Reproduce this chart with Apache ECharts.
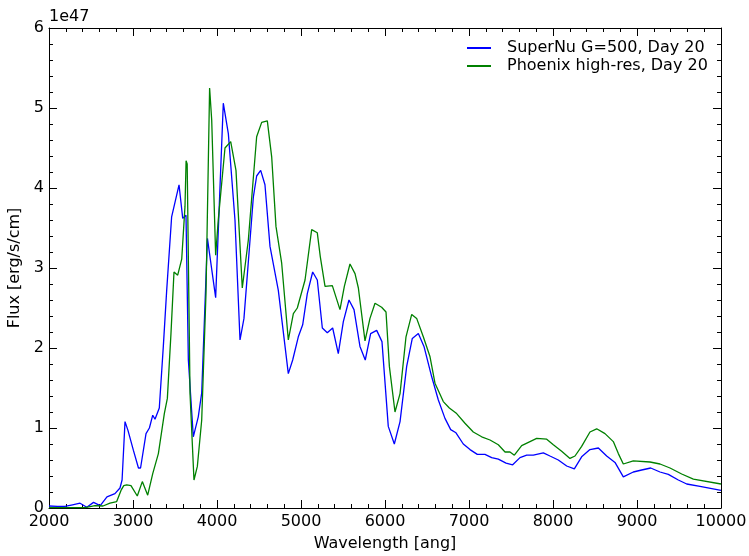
<!DOCTYPE html>
<html>
<head>
<meta charset="utf-8">
<script src="https://cdn.jsdelivr.net/npm/echarts@6/dist/echarts.min.js"></script>
<style>html,body{margin:0;padding:0;background:#fff}#c{width:749px;height:556px}</style>
</head>
<body>
<div id="c"></div>
<script>
var superNuWave = [2000,2100,2190,2280,2370,2450,2530,2610,2690,2785,2845,2870,2905,2940,3005,3065,3090,3155,3195,3235,3262,3313,3361,3401,3460,3548,3592,3631,3659,3718,3777,3818,3886,3984,4075,4135,4214,4274,4321,4433,4472,4520,4571,4631,4730,4849,4901,4968,5020,5075,5139,5194,5254,5313,5377,5444,5504,5571,5631,5702,5765,5829,5901,5964,6039,6111,6179,6258,6325,6397,6464,6556,6635,6714,6782,6845,6932,7012,7099,7190,7270,7349,7441,7520,7607,7687,7766,7845,7885,7964,8063,8163,8254,8341,8440,8540,8639,8738,8837,8956,9056,9163,9274,9373,9492,9592,9750,10000];
var superNuFlux = [0.025,0.02,0.02,0.04,0.06,0.01,0.07,0.03,0.14,0.18,0.25,0.35,1.08,0.97,0.72,0.50,0.50,0.93,1.0,1.16,1.11,1.25,2.02,2.72,3.64,4.04,3.62,3.66,1.85,0.89,1.14,1.44,3.37,2.63,5.06,4.68,3.6,2.1,2.37,3.89,4.15,4.22,4.04,3.27,2.72,1.68,1.85,2.14,2.29,2.68,2.95,2.85,2.25,2.19,2.25,1.93,2.33,2.6,2.48,2.02,1.85,2.18,2.22,2.08,1.02,0.80,1.08,1.77,2.12,2.18,2.02,1.64,1.35,1.12,0.98,0.94,0.80,0.73,0.67,0.67,0.63,0.61,0.56,0.54,0.63,0.66,0.66,0.68,0.69,0.65,0.60,0.525,0.49,0.64,0.73,0.75,0.65,0.57,0.39,0.45,0.475,0.50,0.45,0.42,0.35,0.30,0.27,0.22];

var phoenixWave = [2000,2200,2430,2548,2643,2726,2806,2857,2890,2925,2944,2976,2996,3051,3111,3175,3235,3302,3373,3409,3452,3488,3532,3580,3619,3632,3645,3679,3726,3766,3818,3869,3897,3912,3937,3984,4015,4095,4163,4226,4301,4373,4472,4532,4599,4651,4702,4770,4849,4909,4956,5048,5127,5194,5230,5286,5373,5464,5516,5583,5643,5683,5762,5821,5881,5960,6012,6052,6119,6179,6250,6318,6377,6456,6536,6595,6694,6766,6853,6952,7051,7151,7250,7349,7429,7488,7540,7627,7726,7806,7925,8004,8103,8202,8262,8341,8440,8520,8619,8718,8778,8837,8956,9155,9274,9393,9532,9671,10000];
var phoenixFlux = [0.005,0.005,0.005,0.03,0.025,0.06,0.08,0.22,0.28,0.29,0.31,0.28,0.275,0.15,0.33,0.16,0.43,0.68,1.18,1.37,2.18,2.95,2.91,3.11,3.77,4.34,4.3,1.43,0.35,0.52,1.1,2.68,4.35,5.25,4.85,3.16,3.6,4.5,4.58,4.22,2.75,3.35,4.64,4.82,4.84,4.39,3.52,3.06,2.1,2.43,2.5,2.85,3.48,3.44,3.14,2.77,2.78,2.48,2.77,3.05,2.93,2.75,2.09,2.37,2.56,2.51,2.45,1.77,1.2,1.43,2.14,2.42,2.37,2.14,1.89,1.56,1.33,1.25,1.18,1.06,0.95,0.89,0.85,0.79,0.70,0.70,0.66,0.78,0.83,0.87,0.86,0.79,0.71,0.62,0.65,0.77,0.95,0.99,0.93,0.83,0.68,0.55,0.59,0.575,0.55,0.50,0.425,0.36,0.30];

var seriesNames = ['SuperNu G=500, Day 20', 'Phoenix high-res, Day 20'];
var xTitle = 'Wavelength [ang]';
var yTitle = 'Flux [erg/s/cm]';
var yExponent = '1e47';

function pairs(xs, ys){ return xs.map(function(x,i){ return [x, ys[i]]; }); }

var FONT = 'DejaVu Sans';
var FS = 16;
var chart = echarts.init(document.getElementById('c'), null, {renderer:'canvas'});
function axisCommon(show){
  return {
    axisLine:{show:true,onZero:false,lineStyle:{color:'#000',width:1}},
    axisTick:{show:true,inside:true,length:8,lineStyle:{color:'#000',width:1}},
    minorTick:{show:true,splitNumber:5,length:4,lineStyle:{color:'#000',width:1}},
    splitLine:{show:false},
    axisLabel:{show:show,color:'#000',fontFamily:FONT,fontSize:FS,formatter:function(v){return String(v);}}
  };
}
var xb = Object.assign({type:'value',min:2000,max:10000,interval:1000,position:'bottom',
  name:xTitle,nameLocation:'middle',nameGap:28,nameTextStyle:{color:'#000',fontFamily:FONT,fontSize:FS}}, axisCommon(true));
xb.axisLabel.margin = 6;
var xt = Object.assign({type:'value',min:2000,max:10000,interval:1000,position:'top'}, axisCommon(false));
var yl = Object.assign({type:'value',min:0,max:6,interval:1,position:'left',
  name:yTitle,nameLocation:'middle',nameGap:20,nameTextStyle:{color:'#000',fontFamily:FONT,fontSize:FS}}, axisCommon(true));
yl.axisLabel.margin = 5;
var yr = Object.assign({type:'value',min:0,max:6,interval:1,position:'right'}, axisCommon(false));

chart.setOption({
  animation:false,
  backgroundColor:'#fff',
  grid:{left:49,right:28,top:28,bottom:48,containLabel:false,outerBoundsMode:'none'},
  xAxis:[xb, xt],
  yAxis:[yl, yr],
  legend:{
    orient:'vertical',left:462,top:35,itemWidth:24,itemHeight:2,itemGap:2,
    icon:'rect',
    textStyle:{color:'#000',fontFamily:FONT,fontSize:FS,padding:[0,0,0,11]},
    data:seriesNames
  },
  graphic:[{type:'text',left:49,top:9,style:{text:yExponent,fill:'#000',font:FS+'px "DejaVu Sans"'}}],
  series:[
    {name:seriesNames[0],type:'line',xAxisIndex:0,yAxisIndex:0,showSymbol:false,symbol:'none',
     lineStyle:{color:'#0000ff',width:1.3},itemStyle:{color:'#0000ff'},data:pairs(superNuWave,superNuFlux)},
    {name:seriesNames[1],type:'line',xAxisIndex:0,yAxisIndex:0,showSymbol:false,symbol:'none',
     lineStyle:{color:'#008000',width:1.3},itemStyle:{color:'#008000'},data:pairs(phoenixWave,phoenixFlux)}
  ]
});
</script>
</body>
</html>
